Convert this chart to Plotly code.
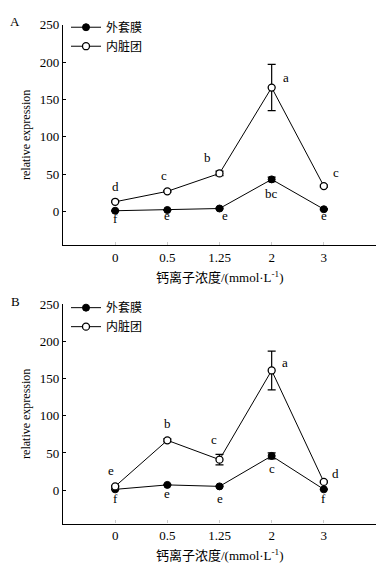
import plotly.graph_objects as go

categories = ["0", "0.5", "1.25", "2", "3"]
y_ticks = [0, 50, 100, 150, 200, 250]

# Panel A
a_mantle = [1, 2, 4, 43, 3]
a_mantle_err = [0.5, 0.5, 0.8, 3, 0.8]
a_visceral = [13, 27, 51, 166, 34]
a_visceral_err = [1, 1, 3, 31, 1.5]

# Panel B
b_mantle = [1, 7, 5, 46, 1]
b_mantle_err = [0.5, 0.8, 0.8, 4, 0.5]
b_visceral = [5, 67, 41, 161, 11]
b_visceral_err = [1, 2, 7, 26, 1]

# significance letters: (x index, y value, text)
a_letters_x = [0, 0.94, 1.77, 3.27, 4.23, 0, 1, 2.1, 3, 4]
a_letters_y = [33, 48, 72, 179, 52, -9, -5, -5, 24, -5]
a_letters = ["d", "c", "b", "a", "c", "f", "e", "e", "bc", "e"]

b_letters_x = [-0.08, 1, 1.9, 3.25, 4.23, 0, 1, 2, 3, 4]
b_letters_y = [27, 89, 68, 172, 23, -11, -5, -11, 29, -11]
b_letters = ["e", "b", "c", "a", "d", "f", "e", "e", "c", "f"]

series_names = ["外套膜", "内脏团"]

SERIF = "Liberation Serif, Times New Roman, serif"
CJK = "Noto Sans CJK SC, sans-serif"

OX, OY = 8, 8  # page body margin
W, H = 385 - OX, 566 - OY
xl, xr = 63 - OX, 376 - OX
panels = [
    dict(top=18 - OY, bottom=241 - OY, mantle=a_mantle, me=a_mantle_err, vis=a_visceral, ve=a_visceral_err,
         lx=a_letters_x, ly=a_letters_y, lt=a_letters, label="A", label_y=15 - OY, legend="legend",
         leg_mid=30 - OY),
    dict(top=301 - OY, bottom=523 - OY, mantle=b_mantle, me=b_mantle_err, vis=b_visceral, ve=b_visceral_err,
         lx=b_letters_x, ly=b_letters_y, lt=b_letters, label="B", label_y=298 - OY, legend="legend2",
         leg_mid=314 - OY),
]

fig = go.Figure()
xs = list(range(len(categories)))
annotations = []
for i, p in enumerate(panels):
    xa = "x" if i == 0 else "x2"
    ya = "y" if i == 0 else "y2"
    fig.add_trace(go.Scatter(
        x=xs, y=p["mantle"], name=series_names[0], xaxis=xa, yaxis=ya, mode="lines+markers",
        line=dict(color="black", width=1),
        marker=dict(symbol="circle", size=7, color="black", line=dict(color="black", width=1)),
        error_y=dict(type="data", array=p["me"], color="black", thickness=1.2, width=4),
        legend=p["legend"]))
    fig.add_trace(go.Scatter(
        x=xs, y=p["vis"], name=series_names[1], xaxis=xa, yaxis=ya, mode="lines+markers",
        line=dict(color="black", width=1),
        marker=dict(symbol="circle", size=7, color="white", line=dict(color="black", width=1.3)),
        error_y=dict(type="data", array=p["ve"], color="black", thickness=1.2, width=4),
        legend=p["legend"]))
    for x, y, t in zip(p["lx"], p["ly"], p["lt"]):
        annotations.append(dict(x=x, y=y, xref=xa, yref=ya, text=t, showarrow=False,
                                font=dict(family=SERIF, size=13, color="black")))
    annotations.append(dict(x=(15 - OX) / W, y=1 - p["label_y"] / H, xref="paper", yref="paper",
                            text=p["label"], showarrow=False, xanchor="center", yanchor="middle",
                            font=dict(family=SERIF, size=13, color="black")))
    annotations.append(dict(x=(xl + xr) / 2 / W, y=1 - (p["bottom"] + 32) / H, xref="paper", yref="paper",
                            text="钙离子浓度/(mmol·L<sup>-1</sup>)", showarrow=False,
                            xanchor="center", yanchor="middle",
                            font=dict(family=SERIF + ", " + CJK, size=13, color="black")))
    annotations.append(dict(x=(26 - OX) / W, y=1 - (p["top"] + p["bottom"]) / 2 / H, xref="paper", yref="paper",
                            text="relative expression", showarrow=False, textangle=-90,
                            xanchor="center", yanchor="middle",
                            font=dict(family=SERIF, size=12, color="black")))

def yaxis(p, anchor):
    return dict(domain=[1 - p["bottom"] / H, 1 - p["top"] / H], range=[-45, 250], anchor=anchor,
                tickvals=y_ticks, ticks="inside", ticklen=3, tickcolor="black",
                showline=True, linecolor="black", linewidth=1.2, showgrid=False, zeroline=False,
                tickfont=dict(family=SERIF, size=13, color="black"))

def xaxis(p, anchor):
    return dict(domain=[xl / W, xr / W], range=[-1, 5], tickvals=xs, ticktext=categories,
                ticks="inside", ticklen=3, tickcolor="#ccc", anchor=anchor,
                showline=True, linecolor="black", linewidth=1.2, showgrid=False, zeroline=False,
                tickfont=dict(family=SERIF, size=13, color="black"))

legend_common = dict(font=dict(family=CJK, size=12, color="black"), bgcolor="rgba(0,0,0,0)",
                     xanchor="left", yanchor="middle", tracegroupgap=0, itemwidth=30)

fig.update_layout(
    width=W, height=H, margin=dict(l=0, r=0, t=0, b=0),
    plot_bgcolor="white", paper_bgcolor="white",
    xaxis=xaxis(panels[0], "y"), yaxis=yaxis(panels[0], "x"),
    xaxis2=xaxis(panels[1], "y2"), yaxis2=yaxis(panels[1], "x2"),
    legend=dict(legend_common, x=(66 - OX) / W, y=1 - panels[0]["leg_mid"] / H),
    legend2=dict(legend_common, x=(66 - OX) / W, y=1 - panels[1]["leg_mid"] / H),
    annotations=annotations,
    showlegend=True,
)

fig.write_html("out.html")
